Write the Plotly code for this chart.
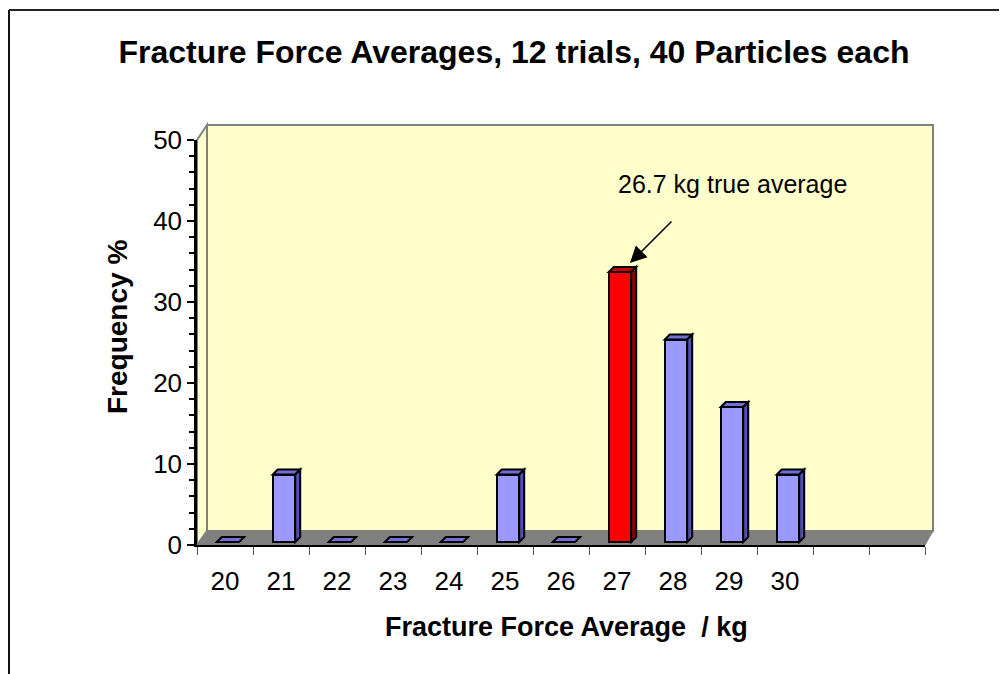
import plotly.graph_objects as go

# ---- data ----
categories = [20, 21, 22, 23, 24, 25, 26, 27, 28, 29, 30]
tick_labels = ["20", "21", "22", "23", "24", "25", "26", "27", "28", "29", "30"]
frequency = [0, 8.33, 0, 0, 0, 8.33, 0, 33.33, 25.0, 16.67, 8.33]
highlight = 27
title_text = "Fracture Force Averages, 12 trials, 40 Particles each"
x_title = "Fracture Force Average  / kg"
y_title = "Frequency %"
note_text = "26.7 kg true average"

# ---- layout geometry (page pixels; page body has an 8px margin) ----
OFF = 8
W, H = 1007 - OFF, 674 - OFF
L, R, T, B = 197, 925, 140, 545          # page coords of plot area
X_MIN, X_MAX = 19.5, 32.5
Y_MIN, Y_MAX = 0, 50
px_per_x = (R - L) / (X_MAX - X_MIN)
px_per_y = (B - T) / (Y_MAX - Y_MIN)

def fx(p):
    return (p - L) / (R - L)

def fy(p):
    return (B - p) / (B - T)

FONT = "Liberation Sans, Arial, sans-serif"
BLUE, BLUE_TOP, BLUE_SIDE = "#9999FF", "#7070D8", "#5050A8"
RED, RED_TOP, RED_SIDE = "#FF0000", "#C80000", "#900000"
WALL = "#FFFFCC"
GRAY = "#808080"

bar_w = 0.40
shift_x = 3 / px_per_x          # bars sit mid-depth
base = 3 / px_per_y
dx = 5 / px_per_x               # 3-D face depth
dy = 5 / px_per_y

colors = [RED if c == highlight else BLUE for c in categories]

fig = go.Figure()
fig.add_trace(go.Bar(
    x=categories, y=frequency, base=[base] * len(categories),
    width=bar_w, offset=-bar_w / 2 + shift_x,
    marker=dict(color=colors, line=dict(color="black", width=2)),
    hoverinfo="x+y", showlegend=False,
))

shapes = []
# back wall
shapes.append(dict(type="rect", xref="paper", yref="paper",
                   x0=fx(207), x1=fx(933), y0=fy(531), y1=fy(125),
                   fillcolor=WALL, line=dict(color=GRAY, width=2), layer="below"))
# left side wall
shapes.append(dict(type="path", xref="paper", yref="paper",
                   path=f"M {fx(L)} {fy(T)} L {fx(207)} {fy(125)} L {fx(207)} {fy(531)} L {fx(L)} {fy(B)} Z",
                   fillcolor=WALL, line=dict(color=GRAY, width=2), layer="below"))
# floor
shapes.append(dict(type="path", xref="paper", yref="paper",
                   path=f"M {fx(L)} {fy(B)} L {fx(207)} {fy(531)} L {fx(933)} {fy(531)} L {fx(R)} {fy(B)} Z",
                   fillcolor=GRAY, line=dict(color=GRAY, width=1), layer="below"))

# 3-D top and side faces of each bar, derived from the data
for c, v in zip(categories, frequency):
    x0 = c - bar_w / 2 + shift_x
    x1 = c + bar_w / 2 + shift_x
    top = base + v
    top_col = RED_TOP if c == highlight else BLUE_TOP
    side_col = RED_SIDE if c == highlight else BLUE_SIDE
    shapes.append(dict(type="path", xref="x", yref="y",
                       path=f"M {x0} {top} L {x0 + dx} {top + dy} L {x1 + dx} {top + dy} L {x1} {top} Z",
                       fillcolor=top_col, line=dict(color="black", width=2), layer="above"))
    if v > 0:
        shapes.append(dict(type="path", xref="x", yref="y",
                           path=f"M {x1} {base} L {x1 + dx} {base + dy} L {x1 + dx} {top + dy} L {x1} {top} Z",
                           fillcolor=side_col, line=dict(color="black", width=2), layer="above"))

# outer chart border (top and left)
shapes.append(dict(type="line", xref="paper", yref="paper",
                   x0=fx(9), x1=fx(1010), y0=fy(10), y1=fy(10),
                   line=dict(color="#222222", width=2)))
shapes.append(dict(type="line", xref="paper", yref="paper",
                   x0=fx(9), x1=fx(9), y0=fy(10), y1=fy(680),
                   line=dict(color="#111111", width=2)))

annotations = [
    dict(text=f"<b>{x_title}</b>", xref="paper", yref="paper",
         x=fx(566), y=fy(627), xanchor="center", yanchor="middle", showarrow=False,
         font=dict(family=FONT, size=27, color="black")),
    dict(text=f"<b>{y_title}</b>", xref="paper", yref="paper",
         x=fx(117), y=fy(327), xanchor="center", yanchor="middle",
         showarrow=False, textangle=-90,
         font=dict(family=FONT, size=28, color="black")),
    dict(text=note_text, xref="paper", yref="paper",
         x=fx(732), y=fy(184), xanchor="center", yanchor="middle", showarrow=False,
         font=dict(family=FONT, size=25, color="black")),
    dict(text="", xref="paper", yref="paper",
         x=fx(630), y=fy(263), ax=43, ay=-43,
         showarrow=True, arrowhead=2, arrowsize=2.2, arrowwidth=1.5,
         arrowcolor="black"),
]

fig.update_layout(
    width=W, height=H,
    margin=dict(l=L - OFF, r=1007 - R, t=T - OFF, b=674 - B, pad=0),
    paper_bgcolor="white",
    plot_bgcolor="rgba(0,0,0,0)",
    title=dict(text=f"<b>{title_text}</b>", xref="container", yref="container",
               x=(514 - OFF) / W, y=1 - (52 - OFF) / H, xanchor="center", yanchor="middle",
               font=dict(family=FONT, size=32, color="black")),
    font=dict(family=FONT, color="black"),
    xaxis=dict(range=[X_MIN, X_MAX], tickvals=categories, ticktext=tick_labels,
               ticks="outside", ticklen=12, tickcolor="rgba(0,0,0,0)",
               minor=dict(tick0=19.5, dtick=1, ticks="outside", ticklen=8,
                          tickcolor="#555555", tickwidth=1),
               showline=True, linecolor="black", linewidth=1.5,
               showgrid=False, zeroline=False, fixedrange=True,
               tickfont=dict(family=FONT, size=26, color="black")),
    yaxis=dict(range=[Y_MIN, Y_MAX], dtick=10, tick0=0,
               ticks="outside", ticklen=7, tickwidth=2, tickcolor="black",
               minor=dict(dtick=2, ticks="outside", ticklen=5, tickwidth=2,
                          tickcolor="black"),
               showline=True, linecolor="black", linewidth=2.5,
               showgrid=False, zeroline=False, fixedrange=True,
               tickfont=dict(family=FONT, size=26, color="black")),
    shapes=shapes,
    annotations=annotations,
    bargap=0,
)

fig.write_html("out.html")
